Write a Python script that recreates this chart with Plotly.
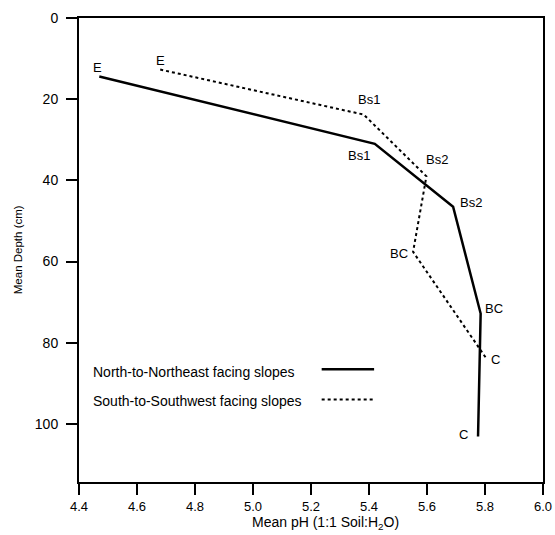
import plotly.graph_objects as go

# Data
north_horizons = ["E", "Bs1", "Bs2", "BC", "C"]
north_ph = [4.47, 5.42, 5.69, 5.785, 5.776]
north_depth = [14.4, 31.0, 46.5, 72.8, 103.1]

south_horizons = ["E", "Bs1", "Bs2", "BC", "C"]
south_ph = [4.68, 5.382, 5.598, 5.552, 5.802]
south_depth = [12.7, 23.8, 39.0, 57.6, 83.6]

x_ticks = [4.4, 4.6, 4.8, 5.0, 5.2, 5.4, 5.6, 5.8, 6.0]
y_ticks = [0, 20, 40, 60, 80, 100]

legend_labels = ["North-to-Northeast facing slopes", "South-to-Southwest facing slopes"]

# label offsets (pixels) relative to each point
north_shift = [(-2, 9), (-16, -12), (18, 4), (13, 5), (-15, 2)]
south_shift = [(0, 9), (5, 15), (11, 17), (-14, -2), (10, -2)]

FONT = "Liberation Sans, Arial, Helvetica, sans-serif"

fig = go.Figure()
fig.add_trace(go.Scatter(x=north_ph, y=north_depth, mode="lines",
                         line=dict(color="black", width=2.5), showlegend=False,
                         hoverinfo="skip"))
fig.add_trace(go.Scatter(x=south_ph, y=south_depth, mode="lines",
                         line=dict(color="black", width=2, dash="dot"), showlegend=False,
                         hoverinfo="skip"))

annotations = []
for h, x, y, (dx, dy) in zip(north_horizons, north_ph, north_depth, north_shift):
    annotations.append(dict(x=x, y=y, text=h, showarrow=False, xshift=dx, yshift=dy,
                            font=dict(size=13, color="black", family=FONT)))
for h, x, y, (dx, dy) in zip(south_horizons, south_ph, south_depth, south_shift):
    annotations.append(dict(x=x, y=y, text=h, showarrow=False, xshift=dx, yshift=dy,
                            font=dict(size=13, color="black", family=FONT)))

# manual legend
leg_text_y = [0.236, 0.174]
leg_line_y = [0.243, 0.178]
dashes = ["solid", "dot"]
widths = [2.5, 2]
shapes = []
for lab, ty, ly, d, w in zip(legend_labels, leg_text_y, leg_line_y, dashes, widths):
    annotations.append(dict(x=0.025, y=ty, xref="paper", yref="paper", text=lab,
                            showarrow=False, xanchor="left", yanchor="middle",
                            font=dict(size=14, color="black", family=FONT)))
    shapes.append(dict(type="line", xref="paper", yref="paper", x0=0.523, x1=0.636,
                       y0=ly, y1=ly, line=dict(color="black", width=w, dash=d)))

# axis titles
annotations.append(dict(x=0.531, y=-0.0877, xref="paper", yref="paper",
                        text="Mean pH (1:1 Soil:H<sub>2</sub>O)", showarrow=False,
                        xanchor="center", yanchor="middle",
                        font=dict(size=14, color="black", family=FONT)))
annotations.append(dict(x=-0.131, y=0.5, xref="paper", yref="paper",
                        text="Mean Depth (cm)", showarrow=False, textangle=-90,
                        xanchor="center", yanchor="middle",
                        font=dict(size=11.5, color="black", family=FONT)))

fig.update_layout(
    width=555, height=535,
    margin=dict(l=79, r=12, t=18, b=53),
    plot_bgcolor="white", paper_bgcolor="white",
    font=dict(family=FONT, size=13, color="black"),
    annotations=annotations, shapes=shapes,
    xaxis=dict(range=[4.4, 6.0], tickvals=x_ticks, tickformat=".1f", automargin=False,
               showgrid=False, zeroline=False, showline=True, linecolor="black",
               linewidth=2, mirror=True, ticks="outside", ticklen=11, tickwidth=2,
               tickcolor="black", tickfont=dict(size=13)),
    yaxis=dict(range=[114.3, 0], tickvals=y_ticks, automargin=False,
               showgrid=False, zeroline=False, showline=True, linecolor="black",
               linewidth=2, mirror=True, ticks="outside", ticklen=11, tickwidth=2,
               tickcolor="black", tickfont=dict(size=14), ticklabelstandoff=5),
)

fig.write_html("out.html", config={"displayModeBar": False},
               post_script="document.body.style.margin='0';")
